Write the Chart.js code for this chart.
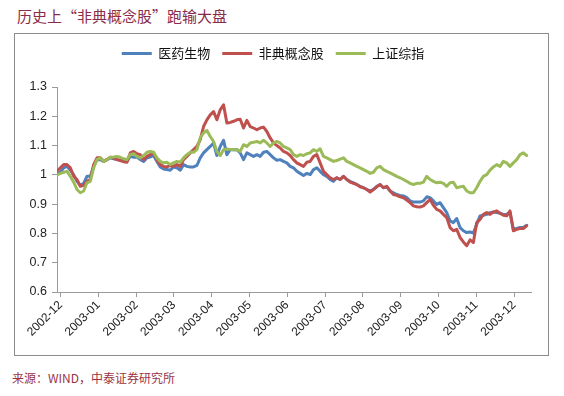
<!DOCTYPE html>
<html lang="zh">
<head>
  <meta charset="UTF-8" />
  <title>历史上“非典概念股”跑输大盘</title>
  <script src="https://cdn.jsdelivr.net/npm/chart.js"></script>
  <style>
    body {
      margin: 0;
      width: 564px;
      height: 396px;
      background: #fff;
      position: relative;
      font-family: "Liberation Sans", "Noto Sans CJK SC", sans-serif;
      overflow: hidden;
    }
    .title {
      position: absolute;
      left: 17px;
      top: 5px;
      font-family: "Noto Sans CJK SC", sans-serif;
      font-size: 15px;
      color: #8a2b4b;
    }
    .box {
      position: absolute;
      left: 14px;
      top: 33px;
      width: 535px;
      height: 323px;
      box-sizing: border-box;
      border: 1px solid #8c8c8c;
    }
    .source {
      position: absolute;
      left: 12px;
      top: 369px;
      font-family: "Noto Sans CJK SC", sans-serif;
      font-size: 12px;
      color: #9c3446;
    }
  </style>
</head>
<body>
  <div class="title">历史上“非典概念股”跑输大盘</div>
  <div class="box">
    <canvas id="chart" width="533" height="321"></canvas>
  </div>
  <div class="source">来源：WIND，中泰证券研究所</div>

  <script>
    // month labels and the sample index where each month starts
    const monthLabels = ['2002-12', '2003-01', '2003-02', '2003-03', '2003-04', '2003-05', '2003-06',
      '2003-07', '2003-08', '2003-09', '2003-10', '2003-11', '2003-12'];
    const monthStart = [1.1, 12.4, 23.8, 35.1, 46.5, 57.8, 69.1, 80.5, 91.8, 103.2, 114.5, 125.8, 137.2];

    // 医药生物
    const yiyao = [
      1.000, 1.009, 1.024, 1.029, 1.016, 1.001, 0.978, 0.964, 0.971, 0.995,
      0.995, 1.029, 1.052, 1.052, 1.046, 1.052, 1.058, 1.055, 1.052, 1.050,
      1.049, 1.046, 1.063, 1.060, 1.061, 1.052, 1.046, 1.058, 1.061, 1.066,
      1.046, 1.027, 1.020, 1.018, 1.016, 1.027, 1.024, 1.016, 1.035, 1.029,
      1.027, 1.027, 1.032, 1.058, 1.075, 1.086, 1.097, 1.109, 1.066, 1.097,
      1.118, 1.069, 1.086, 1.086, 1.086, 1.075, 1.052, 1.075, 1.069, 1.063,
      1.069, 1.063, 1.077, 1.080, 1.069, 1.058, 1.050, 1.052, 1.046, 1.041,
      1.029, 1.024, 1.012, 1.005, 0.998, 1.005, 1.001, 1.018, 1.024, 1.012,
      1.001, 0.995, 0.984, 0.978, 0.990, 0.984, 0.995, 0.984, 0.978, 0.973,
      0.967, 0.961, 0.956, 0.950, 0.945, 0.950, 0.961, 0.967, 0.956, 0.959,
      0.945, 0.939, 0.933, 0.930, 0.928, 0.922, 0.911, 0.907, 0.907, 0.907,
      0.911, 0.925, 0.922, 0.911, 0.899, 0.905, 0.888, 0.871, 0.843, 0.837,
      0.851, 0.820, 0.809, 0.803, 0.805, 0.801, 0.831, 0.860, 0.862, 0.865,
      0.871, 0.873, 0.871, 0.869, 0.865, 0.865, 0.871, 0.814, 0.817, 0.820,
      0.820, 0.828
    ];

    // 非典概念股
    const feidian = [
      1.012, 1.024, 1.035, 1.035, 1.024, 0.995, 0.984, 0.961, 0.964, 0.978,
      0.984, 1.035, 1.058, 1.058, 1.046, 1.052, 1.060, 1.057, 1.052, 1.049,
      1.045, 1.043, 1.075, 1.080, 1.072, 1.069, 1.052, 1.063, 1.069, 1.075,
      1.052, 1.035, 1.029, 1.027, 1.032, 1.029, 1.035, 1.029, 1.052, 1.063,
      1.075, 1.086, 1.097, 1.120, 1.165, 1.188, 1.205, 1.216, 1.188, 1.222,
      1.239, 1.177, 1.179, 1.183, 1.188, 1.190, 1.160, 1.186, 1.165, 1.160,
      1.154, 1.160, 1.163, 1.148, 1.126, 1.109, 1.100, 1.092, 1.080, 1.075,
      1.066, 1.052, 1.041, 1.035, 1.029, 1.043, 1.046, 1.063, 1.069, 1.041,
      1.012, 1.001, 0.990, 0.984, 0.990, 0.984, 0.995, 0.984, 0.975, 0.971,
      0.967, 0.959, 0.956, 0.950, 0.941, 0.950, 0.959, 0.967, 0.956, 0.961,
      0.945, 0.933, 0.930, 0.925, 0.922, 0.914, 0.905, 0.894, 0.891, 0.890,
      0.894, 0.905, 0.916, 0.896, 0.882, 0.877, 0.865, 0.854, 0.820, 0.809,
      0.814, 0.786, 0.771, 0.758, 0.778, 0.769, 0.837, 0.848, 0.865, 0.871,
      0.865, 0.873, 0.877, 0.869, 0.862, 0.860, 0.877, 0.809, 0.814, 0.817,
      0.817, 0.826
    ];

    // 上证综指
    const szzs = [
      1.000, 1.005, 1.009, 1.012, 0.995, 0.975, 0.950, 0.939, 0.945, 0.973,
      0.978, 1.024, 1.052, 1.058, 1.046, 1.052, 1.060, 1.061, 1.063, 1.060,
      1.055, 1.052, 1.069, 1.072, 1.063, 1.058, 1.066, 1.077, 1.080, 1.077,
      1.058, 1.046, 1.041, 1.043, 1.035, 1.041, 1.046, 1.043, 1.058, 1.069,
      1.077, 1.077, 1.086, 1.126, 1.143, 1.152, 1.131, 1.114, 1.080, 1.066,
      1.086, 1.088, 1.087, 1.086, 1.086, 1.080, 1.103, 1.097, 1.109, 1.111,
      1.114, 1.109, 1.118, 1.109, 1.097, 1.109, 1.114, 1.109, 1.097, 1.092,
      1.086, 1.069, 1.063, 1.069, 1.066, 1.072, 1.075, 1.086, 1.080, 1.089,
      1.063, 1.058, 1.052, 1.046, 1.049, 1.054, 1.058, 1.046, 1.041, 1.035,
      1.029, 1.024, 1.018, 1.012, 1.005, 1.009, 1.024, 1.029, 1.018, 1.012,
      1.007, 1.001, 0.995, 0.990, 0.984, 0.978, 0.971, 0.967, 0.971, 0.971,
      0.975, 0.995, 0.984, 0.978, 0.973, 0.975, 0.971, 0.961, 0.973, 0.975,
      0.956, 0.959, 0.961, 0.945, 0.939, 0.939, 0.956, 0.978, 0.995, 1.001,
      1.016, 1.027, 1.035, 1.029, 1.046, 1.041, 1.029, 1.041, 1.052, 1.069,
      1.075, 1.066
    ];

    const toPoints = arr => arr.map((v, i) => ({ x: i, y: v }));
    const axisFont = { family: '"Liberation Sans", "Noto Sans CJK SC", sans-serif', size: 12 };

    function series(label, values, color, order) {
      return {
        label: label,
        data: toPoints(values),
        borderColor: color,
        backgroundColor: color,
        borderWidth: 3,
        pointRadius: 0,
        pointBorderWidth: 3,
        pointBorderColor: color,
        pointBackgroundColor: color,
        order: order
      };
    }

    // leave some room between the legend and the plot
    const legendGap = {
      id: 'legendGap',
      beforeInit(chart) {
        const fit = chart.legend.fit;
        chart.legend.fit = function () {
          fit.call(this);
          this.height += 17;
        };
      }
    };

    const ctx = document.getElementById('chart').getContext('2d');
    new Chart(ctx, {
      type: 'line',
      data: {
        datasets: [
          series('医药生物', yiyao, '#4f81bd', 3),
          series('非典概念股', feidian, '#c0504d', 2),
          series('上证综指', szzs, '#9bbb59', 1)
        ]
      },
      options: {
        responsive: false,
        animation: false,
        devicePixelRatio: 1,
        layout: { padding: { top: 1, right: 17, left: 0, bottom: 0 } },
        elements: {
          line: { tension: 0, borderJoinStyle: 'round', borderCapStyle: 'round' }
        },
        scales: {
          x: {
            type: 'linear',
            min: 0,
            max: 142.3,
            afterBuildTicks: scale => {
              scale.ticks = monthStart.map(v => ({ value: v }));
            },
            afterFit: scale => { scale.height = 63; },
            ticks: {
              autoSkip: false,
              minRotation: 45,
              maxRotation: 45,
              color: '#222',
              font: { family: axisFont.family, size: 12 },
              padding: 1,
              callback: (v, i) => monthLabels[i]
            },
            grid: { drawOnChartArea: false, drawTicks: true, tickLength: 5, color: '#9a9a9a' },
            border: { color: '#9a9a9a', width: 1 }
          },
          y: {
            min: 0.6,
            max: 1.3,
            afterFit: scale => { scale.width = 42; },
            ticks: {
              stepSize: 0.1,
              color: '#222',
              font: { family: axisFont.family, size: 12.5 },
              padding: 5,
              callback: v => String(+v.toFixed(1))
            },
            grid: { drawOnChartArea: false, drawTicks: true, tickLength: 5, color: '#9a9a9a' },
            border: { color: '#9a9a9a', width: 1 }
          }
        },
        plugins: {
          legend: {
            position: 'top',
            labels: {
              usePointStyle: true,
              pointStyle: 'line',
              pointStyleWidth: 30,
              color: '#111',
              padding: 12,
              font: { family: '"Noto Sans CJK SC", sans-serif', size: 13 },
              sort: (a, b) => a.datasetIndex - b.datasetIndex
            }
          },
          tooltip: { enabled: false }
        }
      },
      plugins: [legendGap]
    });
  </script>
</body>
</html>
